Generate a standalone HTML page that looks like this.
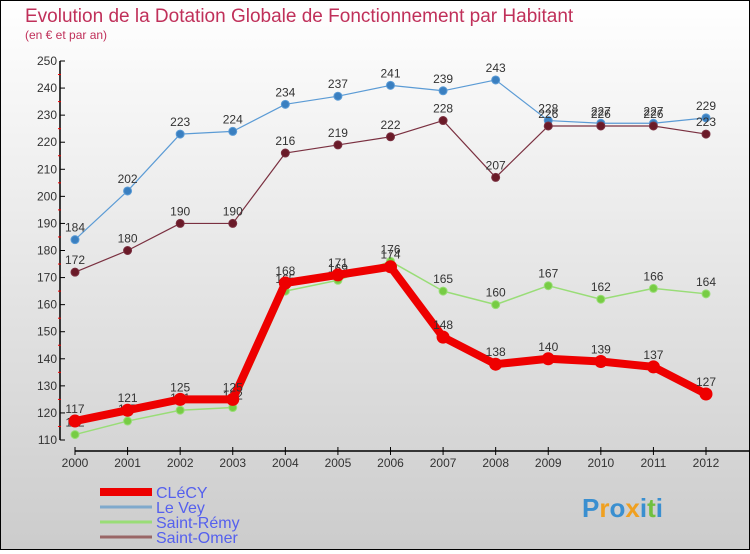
<!DOCTYPE html>
<html><head><meta charset="utf-8"><style>
html,body{margin:0;padding:0;}
body{width:750px;height:550px;overflow:hidden;font-family:"Liberation Sans",sans-serif;}
#wrap{position:absolute;left:0;top:0;width:748px;height:548px;border:1px solid #000;background:linear-gradient(#ffffff,#cccccc);}
</style></head><body>
<div id="wrap">
<svg id="chart" width="748" height="548"></svg>
</div>
<script>
const years = ["2000","2001","2002","2003","2004","2005","2006","2007","2008","2009","2010","2011","2012"];
const yTicks = [110,120,130,140,150,160,170,180,190,200,210,220,230,240,250];
const clecy = [117,121,125,125,168,171,174,148,138,140,139,137,127];
const leVey = [184,202,223,224,234,237,241,239,243,228,227,227,229];
const saintRemy = [112,117,121,122,165,169,176,165,160,167,162,166,164];
const saintOmer = [172,180,190,190,216,219,222,228,207,226,226,226,223];
const seriesNames = ["CLéCY","Le Vey","Saint-Rémy","Saint-Omer"];

const svg = document.getElementById('chart');
const NS = 'http://www.w3.org/2000/svg';
const ox=-1, oy=-1;
function xs(i){ return 75 + i*(706-75)/(years.length-1) + ox; }
function ys(v){ return 440 - (v-110)*(440-61)/(250-110) + oy; }
function el(tag, attrs, parent){ const e=document.createElementNS(NS,tag); for(const k in attrs) e.setAttribute(k,attrs[k]); (parent||svg).appendChild(e); return e; }

let t = el('text',{x:25+ox,y:22+oy,'font-size':19,fill:'#c0305a'});


t.textContent='Evolution de la Dotation Globale de Fonctionnement par Habitant';
t = el('text',{x:25+ox,y:39+oy,'font-size':12,fill:'#c0305a'});


t.textContent='(en € et par an)';

// axes
let a = el('line',{x1:60+ox,y1:ys(250),x2:60+ox,y2:ys(110),stroke:'#000','stroke-width':1.5});


a = el('line',{x1:75+ox,y1:451+oy,x2:748,y2:451+oy,stroke:'#000','stroke-width':1.5});


yTicks.forEach((v,i)=>{
  el('line',{x1:60+ox,y1:ys(v),x2:65+ox,y2:ys(v),stroke:'#000'});
  if(i<yTicks.length-1) el('line',{x1:58+ox,y1:ys(v+5),x2:61+ox,y2:ys(v+5),stroke:'#e00'});
  const l=el('text',{x:57+ox,y:ys(v)+4,'font-size':12,fill:'#333','text-anchor':'end'});
  
  
  l.textContent=v;
});
years.forEach((y,i)=>{
  el('line',{x1:xs(i),y1:447+oy,x2:xs(i),y2:455+oy,stroke:'#000'});
  const l=el('text',{x:xs(i),y:467+oy,'font-size':12,fill:'#333','text-anchor':'middle'});
  
  
  l.textContent=y;
});

function drawSeries(data,color,width,r,dot,name){
  const g=el('g',{});
  
  
  el('polyline',{points:data.map((v,i)=>xs(i)+','+ys(v)).join(' '),fill:'none',stroke:color,'stroke-width':width,'stroke-linejoin':'round'},g);
  data.forEach((v,i)=>{
    const c=el('circle',{cx:xs(i),cy:ys(v),r:r,fill:dot,stroke:color,'stroke-width':1},g);
    
    
    const l=el('text',{x:xs(i),y:ys(v)-8,'font-size':12,fill:'#333','text-anchor':'middle'},g);
    
    
    l.textContent=v;
  });
}
drawSeries(leVey,'#5b9bd5',1.2,4,'#3a7fc0','series-le-vey');
drawSeries(saintOmer,'#7a3040',1.2,4,'#6a1a28','series-saint-omer');
drawSeries(saintRemy,'#99dd77',1.5,4,'#77cc44','series-saint-remy');
drawSeries(clecy,'#ee0000',8,6,'#ee0000','series-clecy');

const legColors=['#ee0000','#7fa9cc','#99dd77','#996666'];
const legW=[8,3,3,3];
seriesNames.forEach((n,i)=>{
  const y=492+i*15+oy;
  const g=el('g',{});
  
  
  el('line',{x1:100+ox,y1:y,x2:152+ox,y2:y,stroke:legColors[i],'stroke-width':legW[i]},g);
  const l=el('text',{x:156+ox,y:y+6,'font-size':16,fill:'#5560ee'},g);
  l.textContent=n;
});

const lg=el('text',{x:582+ox,y:517+oy,'font-size':26,'font-weight':'bold'});


[['P','#3a8fd0'],['r','#f0a020'],['o','#3a8fd0'],['x','#f0a020'],['i','#3a8fd0'],['t','#70c040'],['i','#3a8fd0']].forEach(([c,col])=>{
  const s=el('tspan',{fill:col},lg); s.textContent=c;
});
</script>
</body></html>
